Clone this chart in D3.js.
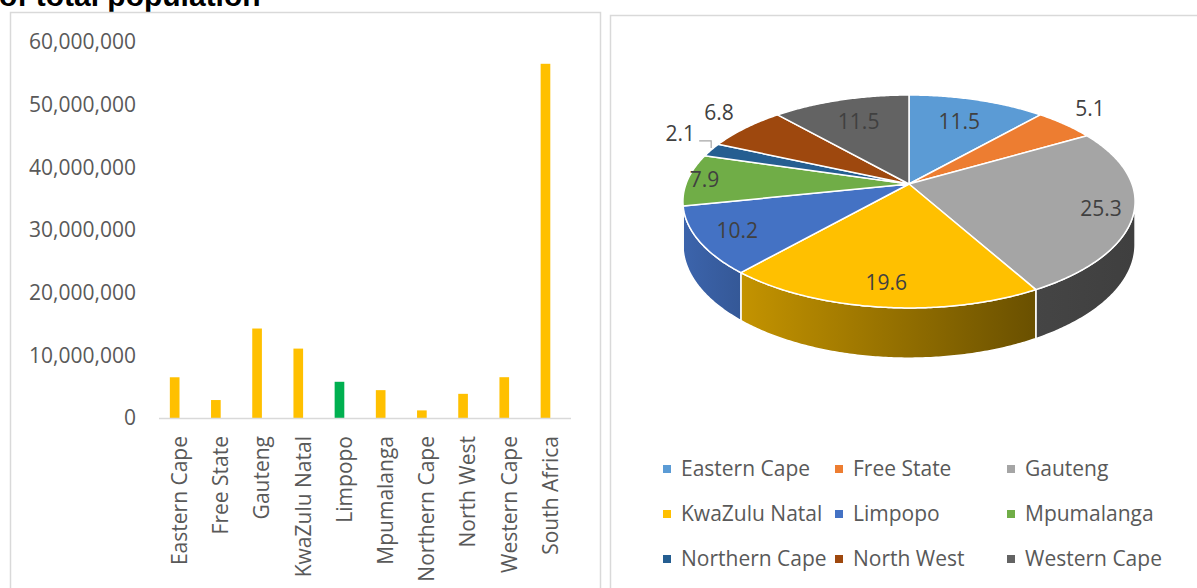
<!DOCTYPE html>
<html>
<head>
<meta charset="utf-8">
<script src="https://cdn.jsdelivr.net/npm/d3@7/dist/d3.min.js"></script>
<style>
  html, body { margin: 0; padding: 0; background: #ffffff; }
  svg { display: block; }
  text { font-family: "Open Sans", "Noto Sans", sans-serif; }
</style>
</head>
<body>
<svg id="chart" width="1197" height="588"></svg>
<script>
// ---------------- data ----------------
const titleText = "of total population";
const categories = ["Eastern Cape", "Free State", "Gauteng", "KwaZulu Natal", "Limpopo",
                    "Mpumalanga", "Northern Cape", "North West", "Western Cape", "South Africa"];
const population = [6498700, 2866700, 14278700, 11074800, 5778400,
                    4444200, 1214000, 3856200, 6510300, 56521900];
const highlightCategory = "Limpopo";
const yTicks = [0, 10000000, 20000000, 30000000, 40000000, 50000000, 60000000];

const provinces = ["Eastern Cape", "Free State", "Gauteng", "KwaZulu Natal", "Limpopo",
                   "Mpumalanga", "Northern Cape", "North West", "Western Cape"];
const shares = [11.5, 5.1, 25.3, 19.6, 10.2, 7.9, 2.1, 6.8, 11.5];
const pieColors = ["#5B9BD5", "#ED7D31", "#A5A5A5", "#FFC000", "#4472C4",
                   "#70AD47", "#255E91", "#9E480E", "#636363"];

// ---------------- setup ----------------
const svg = d3.select("#chart");

// title (cut off at top, as in the source)
svg.append("text")
  .attr("x", -1).attr("y", 6)
  .style("font-family", "'Liberation Sans', Arial, sans-serif")
  .style("font-weight", "bold").style("font-size", "30px").attr("fill", "#000")
  .text(titleText);

// chart boxes
svg.append("rect").attr("x", 10.5).attr("y", 12.5).attr("width", 590).attr("height", 600)
  .attr("fill", "none").attr("stroke", "#D9D9D9").attr("stroke-width", 1.5);
svg.append("rect").attr("x", 610.5).attr("y", 15.5).attr("width", 620).attr("height", 600)
  .attr("fill", "none").attr("stroke", "#D9D9D9").attr("stroke-width", 1.5);

// ---------------- bar chart ----------------
const x = d3.scaleBand().domain(categories).range([159, 571]).paddingInner(0).paddingOuter(0);
const y = d3.scaleLinear().domain([0, 60000000]).range([418, 42]);
const fmt = d3.format(",");

svg.append("g").selectAll("text").data(yTicks).join("text")
  .attr("x", 136).attr("y", d => y(d)).attr("dy", "0.35em")
  .attr("text-anchor", "end").attr("fill", "#595959").style("font-size", "21px")
  .text(d => fmt(d));

// two-slot cluster inside each band; the first slot carries the values
const sub = d3.scaleBand().domain(["value", "blank"]).range([0, x.bandwidth()])
  .paddingInner(0.02).paddingOuter(1.1);

svg.append("g").selectAll("rect").data(categories).join("rect")
  .attr("x", c => x(c) + sub("value"))
  .attr("width", sub.bandwidth())
  .attr("y", (c, i) => y(population[i]))
  .attr("height", (c, i) => y(0) - y(population[i]))
  .attr("fill", c => c === highlightCategory ? "#00B050" : "#FFC000");

svg.append("line").attr("x1", x.range()[0]).attr("x2", x.range()[1])
  .attr("y1", y(0) + 0.5).attr("y2", y(0) + 0.5)
  .attr("stroke", "#D9D9D9").attr("stroke-width", 1.5);

svg.append("g").selectAll("text").data(categories).join("text")
  .attr("transform", c => `translate(${x(c) + x.bandwidth() / 2},436) rotate(-90)`)
  .attr("dy", "0.35em").attr("text-anchor", "end")
  .attr("fill", "#595959").style("font-size", "21px")
  .text(c => c);

// ---------------- 3D pie ----------------
const cx = 909, cy = 184, A = 103.6, B = 223, persp = 0.164, depth = 42;
function proj(theta, r, h) {
  const X = r * Math.sin(theta), Z = -r * Math.cos(theta);
  const s = 1 / (1 - persp * Z);
  return [cx + B * X * s, cy + A * Z * s + h * s];
}
const pie = d3.pie().value(d => d).sort(null);
const arcs = pie(shares);
const thL = Math.acos(-persp);          // right silhouette angle
const thR = 2 * Math.PI - thL;          // left silhouette angle
const leftX = proj(thR, 1, 0)[0], rightX = proj(thL, 1, 0)[0];

const defs = svg.append("defs");
const shadeStops = [[0, 0.88], [0.14, 0.76], [0.77, 0.42], [1, 0.38]];
arcs.forEach((a, i) => {
  const g = defs.append("linearGradient").attr("id", "side" + i)
    .attr("gradientUnits", "userSpaceOnUse")
    .attr("x1", leftX).attr("x2", rightX).attr("y1", 0).attr("y2", 0);
  const c = d3.rgb(pieColors[i]);
  shadeStops.forEach(([o, k]) => {
    g.append("stop").attr("offset", o)
      .attr("stop-color", d3.rgb(c.r * k, c.g * k, c.b * k).formatHex());
  });
});

function sample(a0, a1, r, h) {
  const n = Math.max(2, Math.ceil((a1 - a0) / 0.01));
  return d3.range(n + 1).map(k => proj(a0 + (a1 - a0) * k / n, r, h));
}
const line = d3.line();
const pieG = svg.append("g");

// outer sides (front half only)
arcs.forEach((a, i) => {
  const lo = Math.max(a.startAngle, thL), hi = Math.min(a.endAngle, thR);
  if (lo >= hi) return;
  const top = sample(lo, hi, 1, 0);
  const bot = sample(lo, hi, 1, depth).reverse();
  pieG.append("path").attr("d", line(top.concat(bot)) + "Z")
    .attr("fill", `url(#side${i})`).attr("stroke", "#fff").attr("stroke-width", 1.5)
    .attr("stroke-linejoin", "round");
});
// top faces
arcs.forEach((a, i) => {
  const pts = [[cx, cy]].concat(sample(a.startAngle, a.endAngle, 1, 0));
  pieG.append("path").attr("d", line(pts) + "Z")
    .attr("fill", pieColors[i]).attr("stroke", "#fff").attr("stroke-width", 1.5)
    .attr("stroke-linejoin", "round");
});

// data labels
arcs.forEach((a, i) => {
  const mid = (a.startAngle + a.endAngle) / 2;
  const X = Math.sin(mid), Z = -Math.cos(mid);
  const outside = shares[i] < 7;
  // inside labels: pulled in near the far (top) edge, pushed out at the side edges
  const rIn = 0.83 - 0.13 * Math.max(0, -Z) + 0.1 * Math.max(0, Math.abs(X) - 0.95) / 0.05;
  let [lx, ly] = proj(mid, outside ? 1.18 : rIn, 0);
  if (outside) ly -= 6;
  if (shares[i] < 3) {
    const rim = proj(mid, 1, 0);
    lx = rim[0] - 31; ly = rim[1] - 16;
    pieG.append("path")
      .attr("d", line([[lx + 19, ly + 7], [rim[0], ly + 7], [rim[0], rim[1] - 2]]))
      .attr("fill", "none").attr("stroke", "#A6A6A6").attr("stroke-width", 1.2);
  }
  pieG.append("text").attr("x", lx).attr("y", ly).attr("dy", "0.35em")
    .attr("text-anchor", "middle").attr("fill", "#404040").style("font-size", "21px")
    .text(shares[i].toFixed(1));
});

// legend
const legend = svg.append("g");
provinces.forEach((p, i) => {
  const col = i % 3, row = Math.floor(i / 3);
  const lx = 667 + col * 172, ly = 469 + row * 45;
  legend.append("rect").attr("x", lx - 4).attr("y", ly - 4).attr("width", 8).attr("height", 8)
    .attr("fill", pieColors[i]);
  legend.append("text").attr("x", lx + 14).attr("y", ly).attr("dy", "0.35em")
    .attr("fill", "#595959").style("font-size", "21px").text(p);
});
</script>
</body>
</html>
